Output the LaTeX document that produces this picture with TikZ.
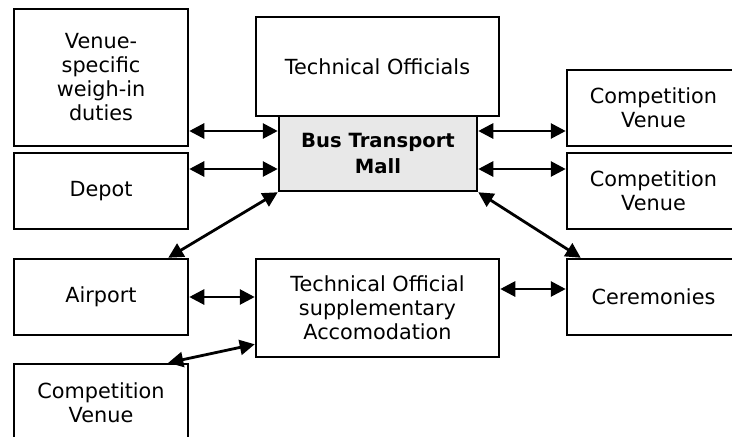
\documentclass[tikz,border=0pt]{standalone}
\usepackage{fontspec}
\setmainfont{DejaVu Sans}
\usetikzlibrary{arrows.meta}
\definecolor{mallgrey}{HTML}{E8E8E8}
\begin{document}
\begin{tikzpicture}[x=1pt,y=-1pt,
  box/.style={draw=black,line width=2.5pt,fill=white,inner sep=0pt,align=center,
    font=\fontsize{20.8}{24}\selectfont},
  mall/.style={box,fill=mallgrey,font=\fontsize{19.6}{26}\selectfont\bfseries},
  link/.style={line width=2.8pt,{Triangle[length=15pt,width=15pt]}-{Triangle[length=15pt,width=15pt]}}]
\useasboundingbox (0,0) rectangle (732,437);
\clip (0,0) rectangle (732,437);

% boxes
\node[box,minimum width=174pt,minimum height=137pt] (weigh) at (101,77.5) {Venue-\\specific\\weigh-in\\duties};
\node[box,minimum width=174pt,minimum height=76pt] (depot) at (101,191) {Depot};
\node[box,minimum width=243pt,minimum height=99pt] (officials) at (377.5,66.5) {Technical Officials};
\node[mall,minimum width=198pt,minimum height=75pt] (mallbox) at (378,153.5) {Bus Transport\\Mall};
\node[box,minimum width=173pt,minimum height=76pt] (venueA) at (653.5,108) {Competition\\Venue};
\node[box,minimum width=173pt,minimum height=76pt] (venueB) at (653.5,191) {Competition\\Venue};
\node[box,minimum width=174pt,minimum height=76pt] (airport) at (101,297) {Airport};
\node[box,minimum width=243pt,minimum height=98pt] (accom) at (377.5,308) {Technical Official\\supplementary\\Accomodation};
\node[box,minimum width=173pt,minimum height=76pt] (cere) at (653.5,297) {Ceremonies};
\node[box,minimum width=174pt,minimum height=78pt] (venueC) at (101,403) {Competition\\Venue};

% connectors
\draw[link] ([yshift=22.5pt]mallbox.west -| weigh.east) -- ([yshift=22.5pt]mallbox.west);
\draw[link] ([yshift=-15.5pt]mallbox.west -| depot.east) -- ([yshift=-15.5pt]mallbox.west);
\draw[link] ([yshift=22.5pt]mallbox.east) -- ([yshift=22.5pt]mallbox.east -| venueA.west);
\draw[link] ([yshift=-15.5pt]mallbox.east) -- ([yshift=-15.5pt]mallbox.east -| venueB.west);
\draw[link] (mallbox.south west) -- ([xshift=-21pt]airport.north east);
\draw[link] (mallbox.south east) -- ([xshift=15pt]cere.north west);
\draw[link] (airport.east) -- (airport.east -| accom.west);
\draw[link] ([yshift=8pt]cere.west -| accom.east) -- ([yshift=8pt]cere.west);
\draw[link] ([yshift=14pt]accom.south west) -- ([xshift=-21pt]venueC.north east);
\end{tikzpicture}
\end{document}
